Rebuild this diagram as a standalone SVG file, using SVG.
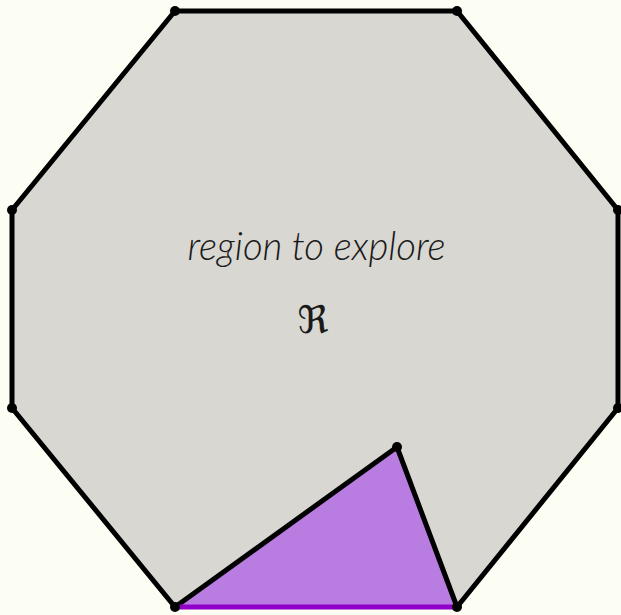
<svg xmlns="http://www.w3.org/2000/svg" width="621" height="615" viewBox="0 0 621 615">
<style>
.edge{fill:none;stroke:#000;stroke-width:5;stroke-linejoin:round;stroke-linecap:round}
.pt{fill:#000}
.lbl{font-family:Lato,"Open Sans",sans-serif;font-style:italic;font-weight:300;font-size:38.4px;fill:#1a1a1a;text-anchor:middle}
</style>
<rect width="621" height="615" fill="#fcfdf3"/>
<g id="region">
<polygon points="175,11 457,11 618,210 618,408 457,607 175,607 12,408 12,210" fill="#d8d7d2"/>
</g>
<g id="triangle">
<polygon points="175,607 397,447 457,607" fill="#b97ce0"/>
</g>
<g id="connectors">
<polyline class="edge" points="175,607 12,408 12,210 175,11 457,11 618,210 618,408 457,607"/>
<polyline class="edge" points="175,607 397,447 457,607"/>
<line x1="175" y1="607" x2="457" y2="607" stroke="#9000c8" stroke-width="5"/>
</g>
<g id="points">
<circle class="pt" cx="175" cy="11" r="5"/>
<circle class="pt" cx="457" cy="11" r="5"/>
<circle class="pt" cx="618" cy="210" r="5"/>
<circle class="pt" cx="618" cy="408" r="5"/>
<circle class="pt" cx="457" cy="607" r="5"/>
<circle class="pt" cx="175" cy="607" r="5"/>
<circle class="pt" cx="12" cy="408" r="5"/>
<circle class="pt" cx="12" cy="210" r="5"/>
<circle class="pt" cx="397" cy="447" r="5"/>
</g>
<g id="labels">
<text class="lbl" x="316.5" y="260">region to explore</text>
<text x="313" y="333" font-family="'DejaVu Serif','DejaVu Sans',serif" font-size="38" text-anchor="middle" fill="#1a1a1a">ℜ</text>
</g>
</svg>
